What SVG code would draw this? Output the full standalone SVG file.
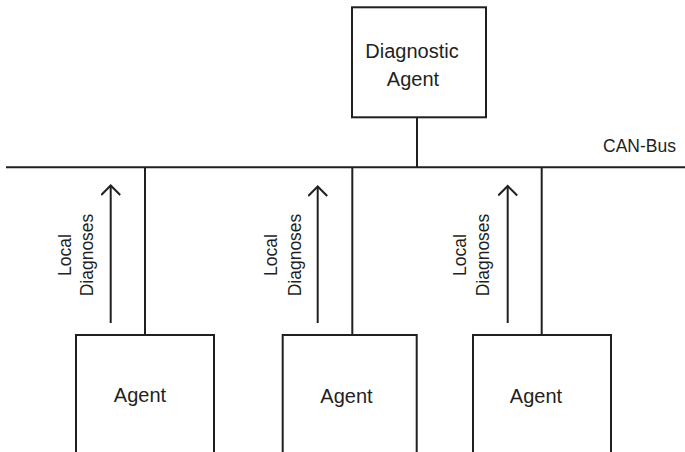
<svg xmlns="http://www.w3.org/2000/svg" width="685" height="452" viewBox="0 0 685 452">
<style>
.ln{stroke:#231f20;stroke-width:2;fill:none}
.box{stroke:#231f20;stroke-width:2;fill:#ffffff}
.t{font-family:"Liberation Sans",Arial,sans-serif;fill:#231f20}
.big{font-size:20px;text-anchor:middle}
.small{font-size:17.5px;text-anchor:middle}
</style>
<defs>
<marker id="ah" viewBox="0 0 20 20" refX="11" refY="10" markerWidth="20" markerHeight="20" markerUnits="userSpaceOnUse" orient="auto">
<path d="M1.5,0.5 L11,10 L1.5,19.5" stroke="#231f20" stroke-width="2" fill="none"/>
</marker>
</defs>
<rect width="685" height="452" fill="#ffffff"/>
<g id="connectors">
<line class="ln" x1="6" y1="167.3" x2="685" y2="167.3"/>
<line class="ln" x1="417" y1="117" x2="417" y2="167.3"/>
<line class="ln" x1="145" y1="167.3" x2="145" y2="335"/>
<line class="ln" x1="352.3" y1="167.3" x2="352.3" y2="335"/>
<line class="ln" x1="541.7" y1="167.3" x2="541.7" y2="335"/>
<g id="arrow1">
<line class="ln" x1="110.7" y1="323" x2="110.7" y2="185.5" marker-end="url(#ah)"/>
<text class="t small" transform="translate(70.5,255) rotate(-90)">Local</text>
<text class="t small" transform="translate(93,255) rotate(-90)">Diagnoses</text>
</g>
<g id="arrow2">
<line class="ln" x1="317.7" y1="323" x2="317.7" y2="186.5" marker-end="url(#ah)"/>
<text class="t small" transform="translate(277,255) rotate(-90)">Local</text>
<text class="t small" transform="translate(300.5,255) rotate(-90)">Diagnoses</text>
</g>
<g id="arrow3">
<line class="ln" x1="507.7" y1="323" x2="507.7" y2="186" marker-end="url(#ah)"/>
<text class="t small" transform="translate(466,255) rotate(-90)">Local</text>
<text class="t small" transform="translate(489,255) rotate(-90)">Diagnoses</text>
</g>
<text id="canbus" class="t" x="603" y="151.7" font-size="17.5">CAN-Bus</text>
</g>
<g id="diagnostic-agent">
<rect class="box" x="352" y="7.3" width="134" height="110"/>
<text class="t big" x="412" y="58">Diagnostic</text>
<text class="t big" x="413" y="86">Agent</text>
</g>
<g id="agent1">
<rect class="box" x="76" y="335" width="138" height="130"/>
<text class="t big" x="140" y="402">Agent</text>
</g>
<g id="agent2">
<rect class="box" x="282.7" y="335" width="134" height="130"/>
<text class="t big" x="346.5" y="402.5">Agent</text>
</g>
<g id="agent3">
<rect class="box" x="473" y="335" width="138" height="130"/>
<text class="t big" x="536" y="403">Agent</text>
</g>
</svg>
